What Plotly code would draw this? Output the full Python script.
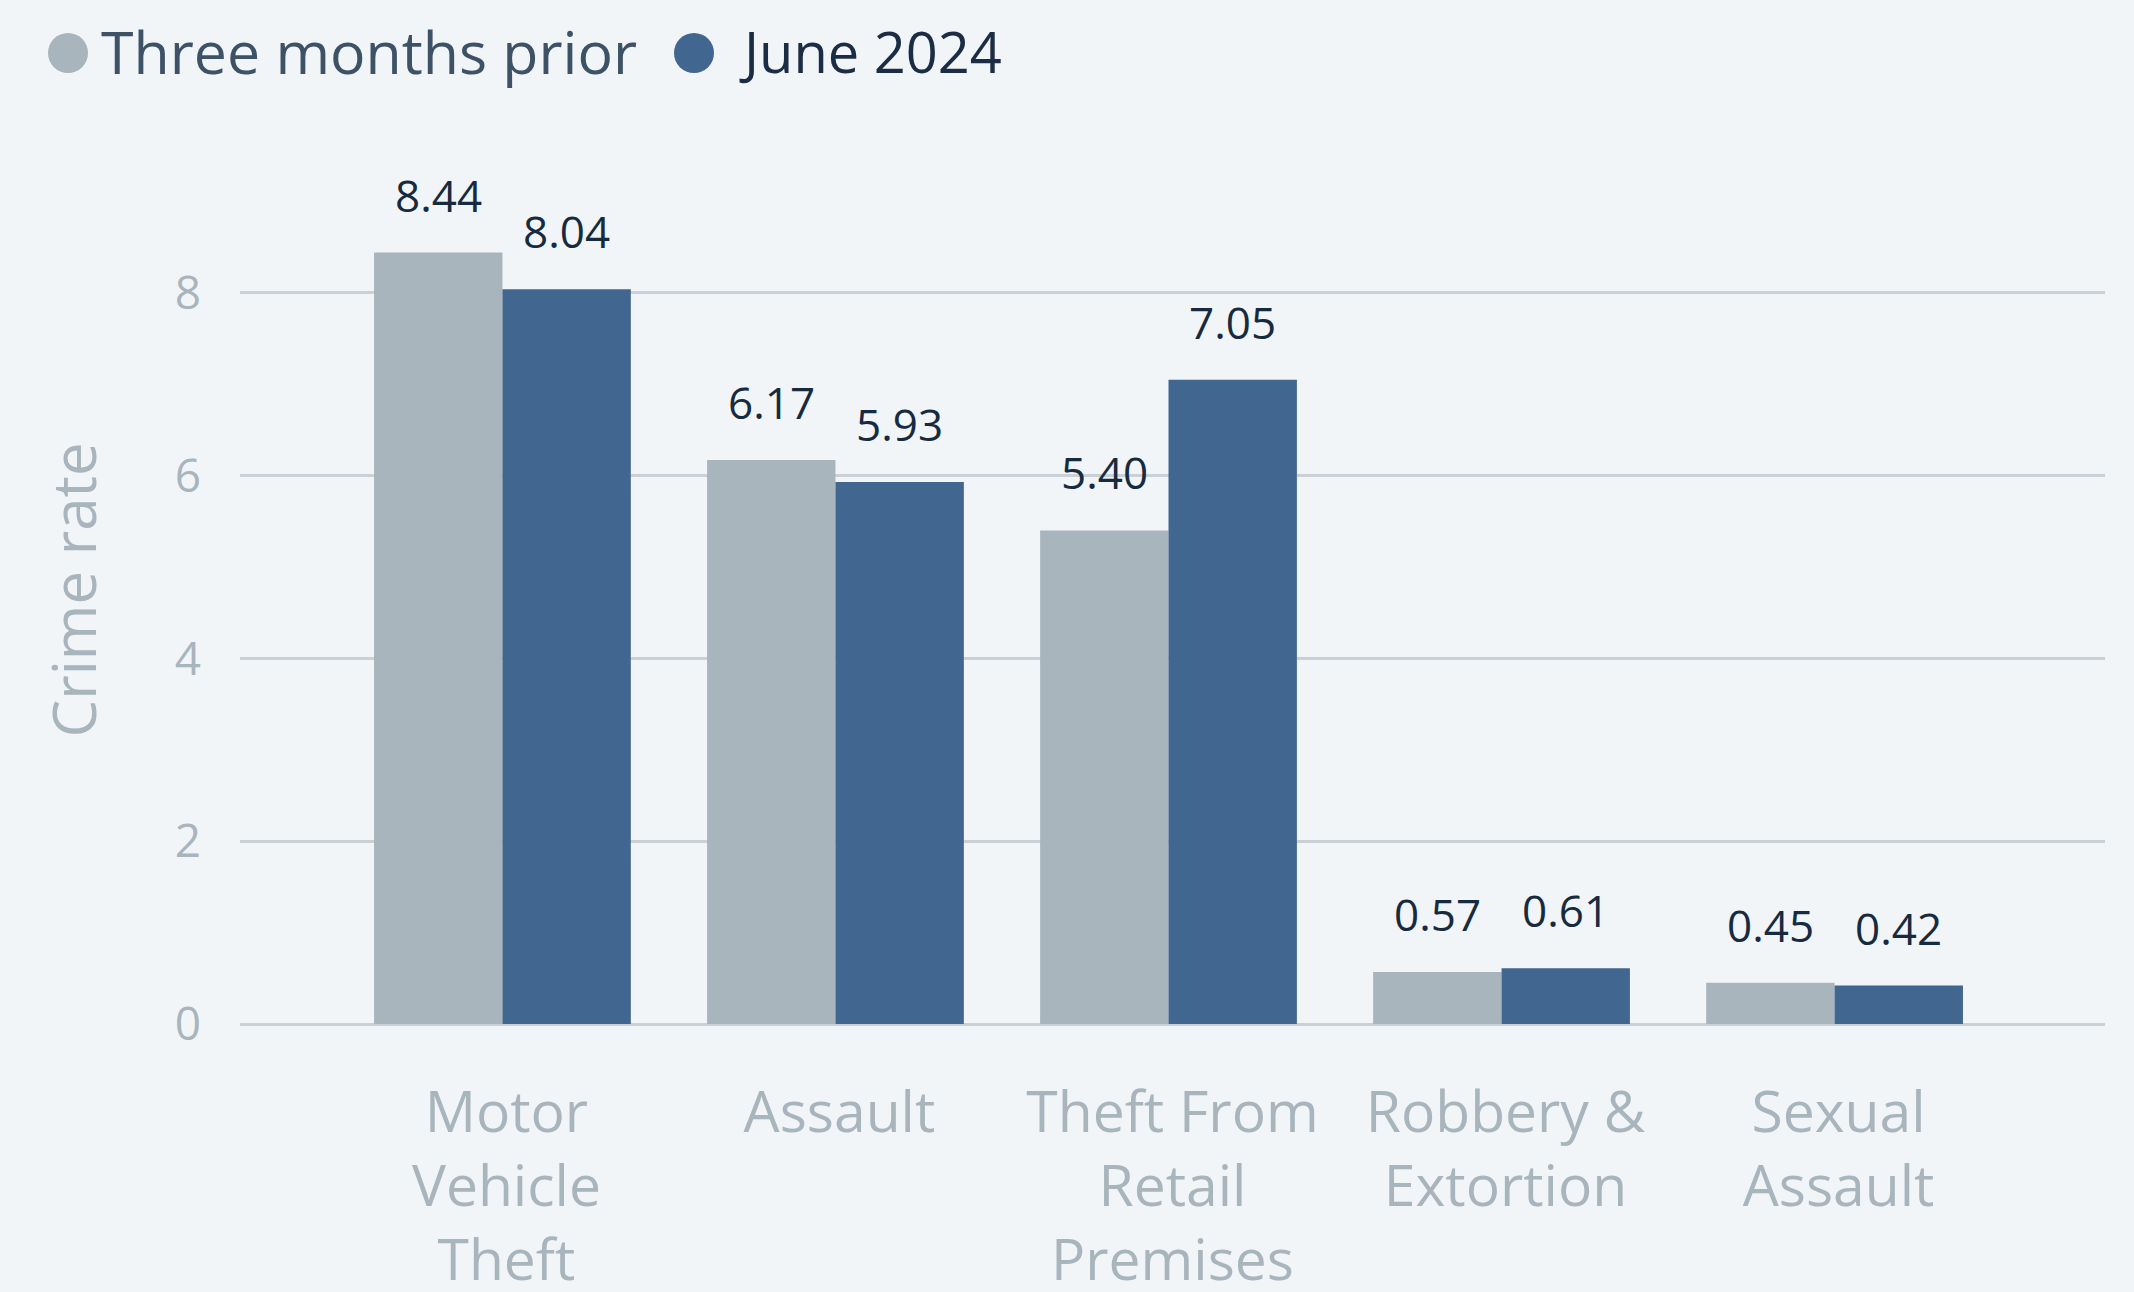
import plotly.graph_objects as go

categories = ["Motor<br>Vehicle<br>Theft", "Assault", "Theft From<br>Retail<br>Premises",
              "Robbery &<br>Extortion", "Sexual<br>Assault"]
three_months_prior = [8.44, 6.17, 5.40, 0.57, 0.45]
june_2024 = [8.04, 5.93, 7.05, 0.61, 0.42]
series_names = ["Three months prior", "June 2024"]
y_ticks = [0, 2, 4, 6, 8]

GRAY = "#a8b5bc"
BLUE = "#41668f"
LABEL = "#172b40"
TICK = "#a8b5bd"
GRID = "#c9d1d7"
BG = "#f2f5f8"
FONT = "Open Sans"

W, H = 2134, 1292
L, R, T, B = 240, 29, 156, 268
PW, PH = W - L - R, H - T - B
BARGAP = 0.229

fig = go.Figure()
idx = list(range(len(categories)))
fig.add_trace(go.Bar(x=idx, y=three_months_prior, name=series_names[0],
                     marker=dict(color=GRAY, line=dict(width=0)), showlegend=False))
fig.add_trace(go.Bar(x=idx, y=june_2024, name=series_names[1],
                     marker=dict(color=BLUE, line=dict(width=0)), showlegend=False))

half = (1 - BARGAP) / 4
annotations = []
for i in idx:
    for vals, off in ((three_months_prior, -half), (june_2024, half)):
        annotations.append(dict(x=i + off, y=vals[i], xref="x", yref="y",
                                text=f"{vals[i]:.2f}", showarrow=False,
                                yanchor="bottom", xanchor="center", yshift=26,
                                font=dict(family=FONT, size=44, color=LABEL)))

# manual legend (large round markers)
def px_x(p):
    return (p - L) / PW

def px_y(p):
    return 1 + (T - p) / PH

leg_y = px_y(51)
shapes = []
for cx, col in ((68, GRAY), (694, BLUE)):
    shapes.append(dict(type="circle", xref="paper", yref="paper",
                       xsizemode="pixel", ysizemode="pixel",
                       xanchor=px_x(cx), yanchor=px_y(53),
                       x0=-20, x1=20, y0=-20, y1=20,
                       fillcolor=col, line=dict(width=0)))
for tx, name, col, fs in ((99, series_names[0], "#3d5266", 59),
                          (737, series_names[1], "#1a2d44", 56)):
    annotations.append(dict(x=px_x(tx), y=leg_y, xref="paper", yref="paper",
                            text=name, showarrow=False, xanchor="left", yanchor="middle",
                            font=dict(family=FONT, size=fs, color=col)))

fig.update_layout(
    width=W, height=H,
    margin=dict(l=L, r=R, t=T, b=B, autoexpand=False),
    paper_bgcolor=BG, plot_bgcolor=BG,
    barmode="group", bargap=BARGAP, bargroupgap=0,
    showlegend=False,
    annotations=annotations, shapes=shapes,
    font=dict(family=FONT, color=TICK),
)
fig.update_xaxes(
    tickmode="array", tickvals=idx, ticktext=categories,
    range=[-0.788, 4.812], showgrid=False, zeroline=False, showline=False,
    ticks="", tickfont=dict(family=FONT, size=57, color=TICK),
    ticklabelstandoff=50, ticklabelshift=4, automargin=False,
)
fig.update_yaxes(
    range=[0, PH / 91.4], tickmode="array", tickvals=y_ticks,
    ticktext=[str(v) for v in y_ticks],
    showgrid=True, gridcolor=GRID, gridwidth=3,
    zeroline=True, zerolinecolor=GRID, zerolinewidth=3,
    showline=False, ticks="",
    tickfont=dict(family=FONT, size=46, color=TICK),
    ticklabelstandoff=38,
    title=dict(text="Crime rate", font=dict(family=FONT, size=60, color=TICK), standoff=58),
    automargin=False,
)

fig.write_html("out.html")
